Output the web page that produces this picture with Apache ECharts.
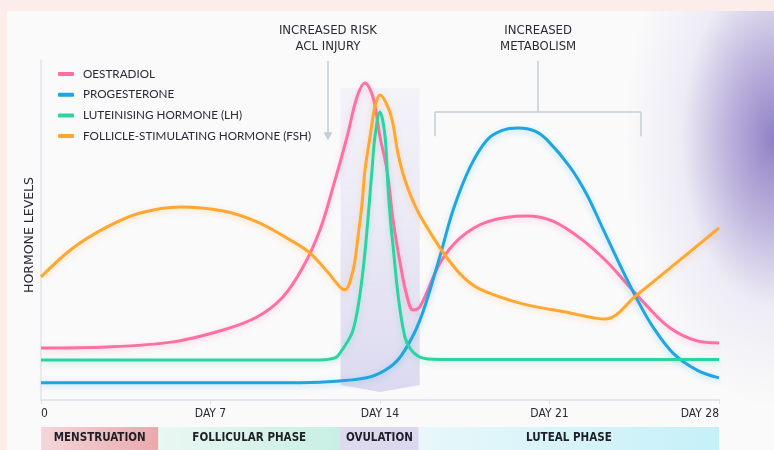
<!DOCTYPE html>
<html>
<head>
<meta charset="utf-8">
<script src="https://cdn.jsdelivr.net/npm/echarts@6/dist/echarts.min.js"></script>
<style>
html, body { margin: 0; padding: 0; width: 774px; height: 450px; overflow: hidden; background: #FDEDEA; }
#card {
  position: absolute; left: 7px; top: 11px; width: 767px; height: 439px;
  background:
    radial-gradient(ellipse 150px 270px at 100% 128px,
      rgba(144, 130, 198, 1) 0%, rgba(166, 153, 210, 0.75) 30%,
      rgba(214, 209, 236, 0.35) 62%, rgba(250, 250, 250, 0) 100%),
    #FAFAFA;
}
#chart { position: absolute; left: 0; top: 0; width: 774px; height: 450px; }
</style>
</head>
<body>
<div id="card"></div>
<div id="chart"></div>
<script>
// cycle day on x, relative hormone level (0-100) on y
const hormoneNames = [
  "OESTRADIOL",
  "PROGESTERONE",
  "LUTEINISING HORMONE (LH)",
  "FOLLICLE-STIMULATING HORMONE (FSH)",
];

const oestradiol = [
  [0, 15.3], [2.73, 15.6], [5.45, 17.1], [7.52, 20.6], [8.92, 24.4],
  [9.99, 30.3], [10.82, 39.1], [11.52, 50.0], [12.06, 62.6], [12.64, 77.4],
  [13.05, 89.1], [13.38, 93.2], [13.71, 89.1], [14.0, 77.4], [14.29, 67.6],
  [14.54, 52.9], [14.83, 40.3], [15.12, 30.3], [15.36, 26.5], [15.65, 27.4],
  [16.48, 40.3], [17.3, 47.6], [18.42, 52.4], [20.07, 54.1], [21.14, 52.6],
  [22.26, 47.6], [23.38, 40.6], [24.2, 34.1], [25.03, 27.6], [25.98, 21.2],
  [27.09, 17.4], [28, 16.8],
];

const progesterone = [
  [0, 5.1], [10.7, 5.1], [12.35, 5.6], [13.59, 6.8], [14.41, 9.7],
  [14.95, 13.8], [15.65, 23.5], [16.48, 42.4], [17.02, 55.9], [17.72, 68.5],
  [18.42, 76.5], [19.05, 79.3], [19.7, 80.0], [20.4, 79.1], [20.9, 76.5],
  [21.85, 68.5], [22.55, 60.3], [23.21, 50.3], [23.91, 39.7], [24.61, 29.7],
  [25.27, 21.5], [26.1, 13.8], [27.09, 8.8], [28, 6.5],
];

const luteinising = [
  [0, 11.8], [11.52, 11.8], [12.14, 12.4], [12.35, 13.8], [12.89, 20.6],
  [13.3, 38.2], [13.67, 67.6], [13.79, 77.4], [14.0, 84.7], [14.21, 77.4],
  [14.33, 62.6], [14.5, 47.9], [15.03, 18.5], [15.65, 12.6], [16.48, 11.9],
  [28, 11.9],
];

const follicle = [
  [0, 36.2], [1.32, 44.7], [2.73, 50.9], [4.09, 55.0], [5.74, 56.8],
  [7.52, 55.6], [8.92, 52.4], [10.28, 47.1], [11.11, 43.2], [11.9, 37.1],
  [12.35, 33.2], [12.55, 32.4], [12.89, 38.2], [13.09, 47.9], [13.26, 57.9],
  [13.38, 67.6], [13.59, 77.4], [13.79, 86.2], [14.0, 89.7], [14.25, 87.4],
  [14.5, 82.4], [14.74, 72.6], [15.03, 64.7], [15.53, 55.9], [16.19, 47.9],
  [16.77, 41.8], [17.43, 36.2], [18.13, 32.6], [19.78, 28.5], [21.85, 25.6],
  [23.29, 23.8], [24.61, 30.9], [26.39, 41.2], [28, 50.6],
];

const dayTicks = [0, 7, 14, 21, 28];
const dayLabels = ["0", "DAY 7", "DAY 14", "DAY 21", "DAY 28"];

const phaseNames = ["MENSTRUATION", "FOLLICULAR PHASE", "OVULATION", "LUTEAL PHASE"];
const phaseStarts = [0, 4.85, 12.35, 15.6];
const phaseEnds = [4.85, 12.35, 15.6, 28];

// ovulation window drawn behind the curves: [from, to, top, bottom, tip]
const ovulationBand = [[12.37, 15.64, 91.8, 4.4, 2.35]];

const riskArrow = { day: 11.85, from: 99.7, to: 77.6 };
const metabolismBracket = { from: 16.27, mid: 20.53, to: 24.78, top: 99.7, bar: 84.7, foot: 77.6 };

const lineColors = ["#FF6FA3", "#1FA5E0", "#2BD4A1", "#FFA730"];
const phaseColors = [
  ["#F4D6D8", "#E9A9AC"],
  ["#EAF7F3", "#C8EFE3"],
  ["#DEDBEF", "#DAD7EE"],
  ["#E8F7FA", "#C6F0F8"],
];
const narrow = "'Liberation Sans Narrow', 'DejaVu Sans Condensed', 'Roboto', sans-serif";
const ink = "#2A2A35";

const hormoneSeries = [oestradiol, progesterone, luteinising, follicle].map((data, i) => ({
  type: "line",
  name: hormoneNames[i],
  data: data,
  smooth: 0.35,
  showSymbol: false,
  silent: true,
  z: 3,
  color: lineColors[i],
  lineStyle: {
    width: 3,
    color: lineColors[i],
    shadowColor: echarts.color.modifyAlpha(lineColors[i], 0.3),
    shadowBlur: 6,
    shadowOffsetY: 2,
  },
}));

const annotationStyle = { color: "#C3CED6", width: 1.5, type: "solid", shadowBlur: 0 };
const annotationLabel = {
  show: true,
  position: "start",
  distance: 6,
  color: ink,
  fontFamily: narrow,
  fontSize: 13,
  lineHeight: 16,
};
const b = metabolismBracket;
hormoneSeries[1].markLine = {
  silent: true,
  animation: false,
  symbol: "none",
  lineStyle: annotationStyle,
  label: { show: false },
  data: [
    [
      { coord: [riskArrow.day, riskArrow.from], label: { ...annotationLabel, formatter: "INCREASED RISK\nACL INJURY" } },
      { coord: [riskArrow.day, riskArrow.to], symbol: "triangle", symbolSize: [9, 8] },
    ],
    [
      { coord: [b.mid, b.top], label: { ...annotationLabel, formatter: "INCREASED\nMETABOLISM" } },
      { coord: [b.mid, b.bar] },
    ],
    [{ coord: [b.from, b.bar] }, { coord: [b.to, b.bar] }],
    [{ coord: [b.from, b.bar] }, { coord: [b.from, b.foot] }],
    [{ coord: [b.to, b.bar] }, { coord: [b.to, b.foot] }],
  ],
};

const chart = echarts.init(document.getElementById("chart"));

const option = {
  backgroundColor: "transparent",
  animation: false,
  legend: {
    data: hormoneNames,
    orient: "vertical",
    left: 53,
    top: 62,
    itemWidth: 16,
    itemHeight: 4,
    itemGap: 6.7,
    icon: "roundRect",
    selectedMode: false,
    textStyle: {
      color: ink,
      fontFamily: "Lato",
      fontSize: 11.7,
      lineHeight: 14,
      padding: [0, 0, 0, 4],
    },
  },
  grid: [
    { left: 41, right: 55, top: 60, bottom: 50 },
    { left: 41, right: 55, top: 427, height: 28 },
  ],
  xAxis: [
    {
      type: "value",
      min: 0,
      max: 28,
      interval: 7,
      splitLine: { show: false },
      axisLine: { lineStyle: { color: "#DCE0E9", width: 1.5 } },
      axisTick: { show: true, length: 4, lineStyle: { color: "#DCE0E9", width: 1 } },
      axisLabel: {
        color: ink,
        fontFamily: narrow,
        fontSize: 12,
        margin: 8,
        alignMinLabel: "left",
        alignMaxLabel: "right",
        formatter: (v) => dayLabels[dayTicks.indexOf(v)],
      },
    },
    { type: "value", gridIndex: 1, min: 0, max: 28, show: false },
  ],
  yAxis: [
    {
      type: "value",
      min: 0,
      max: 100,
      name: "HORMONE LEVELS",
      nameLocation: "middle",
      nameGap: 5,
      nameRotate: 90,
      nameTextStyle: { color: ink, fontFamily: "DejaVu Sans", fontSize: 12.5, verticalAlign: "bottom", padding: [0, 10, 0, 0] },
      splitLine: { show: false },
      axisLabel: { show: false },
      axisTick: { show: false },
      axisLine: { show: true, lineStyle: { color: "#E2E5EC", width: 1.5 } },
    },
    { type: "value", gridIndex: 1, min: 0, max: 1, show: false },
  ],
  series: [
    {
      type: "custom",
      name: "ovulation window",
      silent: true,
      z: 1,
      data: ovulationBand,
      encode: { x: [0, 1], y: [2, 3, 4] },
      renderItem: (params, api) => {
        const tl = api.coord([api.value(0), api.value(2)]);
        const tr = api.coord([api.value(1), api.value(2)]);
        const bl = api.coord([api.value(0), api.value(3)]);
        const br = api.coord([api.value(1), api.value(3)]);
        const tip = api.coord([(api.value(0) + api.value(1)) / 2, api.value(4)]);
        return {
          type: "polygon",
          shape: { points: [tl, tr, br, tip, bl] },
          style: {
            fill: new echarts.graphic.LinearGradient(0, 0, 0, 1, [
              { offset: 0, color: "rgba(236,234,247,0.5)" },
              { offset: 1, color: "#DBD9EF" },
            ]),
          },
        };
      },
    },
    ...hormoneSeries,
    {
      type: "custom",
      name: "phases",
      xAxisIndex: 1,
      yAxisIndex: 1,
      silent: true,
      data: phaseNames.map((n, i) => [phaseStarts[i], phaseEnds[i], i]),
      encode: { x: [0, 1] },
      renderItem: (params, api) => {
        const i = api.value(2);
        const p0 = api.coord([api.value(0), 1]);
        const p1 = api.coord([api.value(1), 0]);
        return {
          type: "rect",
          shape: { x: p0[0], y: p0[1], width: p1[0] - p0[0], height: p1[1] - p0[1] },
          style: {
            fill: new echarts.graphic.LinearGradient(0, 0, 1, 0, [
              { offset: 0, color: phaseColors[i][0] },
              { offset: 1, color: phaseColors[i][1] },
            ]),
          },
          textContent: {
            style: {
              text: phaseNames[i],
              fill: "#1F1F28",
              fontFamily: narrow,
              fontWeight: "bold",
              fontSize: 11.5,
            },
          },
          textConfig: { position: "inside" },
        };
      },
    },
  ],
};

chart.setOption(option);
</script>
</body>
</html>
